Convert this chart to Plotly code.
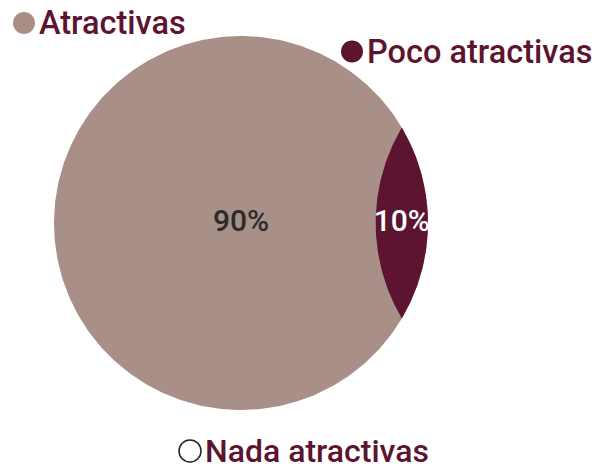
import numpy as np
import plotly.graph_objects as go

# ---- data ----
categories = ["Atractivas", "Poco atractivas", "Nada atractivas"]
values = [90, 10, 0]
colors = ["#a88f87", "#5d1430", "#ffffff"]
label_colors = ["#2b2b2b", "#ffffff", "#2b2b2b"]

# ---- style / geometry constants ----
W, H = 598, 470
CX_PX, CY_PX, R_PX = 241.0, 223.0, 187.0   # circle placement in pixels
LENS_OFFSET = 1.72                          # centre distance of cutting circle (in radii)
TEXT_COLOR = "#5d1430"
FONT = "Roboto"

x_range = [(0 - CX_PX) / R_PX, (W - CX_PX) / R_PX]
y_range = [-(H - CY_PX) / R_PX, CY_PX / R_PX]

fig = go.Figure()

# main circle (Atractivas)
t = np.linspace(0, 2 * np.pi, 361)
fig.add_trace(go.Scatter(
    x=np.cos(t), y=np.sin(t), mode="lines", fill="toself",
    fillcolor=colors[0], line=dict(width=0, color=colors[0]),
    name=categories[0], hoverinfo="name", showlegend=False))

# lens segment (Poco atractivas)
D = LENS_OFFSET
theta = np.arccos(D / 2)
a1 = np.linspace(-theta, theta, 120)
a2 = np.linspace(np.pi - theta, np.pi + theta, 120)
lx = np.concatenate([np.cos(a1), D + np.cos(a2)])
ly = np.concatenate([np.sin(a1), np.sin(a2)])
fig.add_trace(go.Scatter(
    x=lx, y=ly, mode="lines", fill="toself",
    fillcolor=colors[1], line=dict(width=0, color=colors[1]),
    name=categories[1], hoverinfo="name", showlegend=False))

# value labels
lens_cx = D / 2
fig.add_trace(go.Scatter(
    x=[0, lens_cx], y=[0, 0], mode="text",
    text=[f"{values[0]}%", f"{values[1]}%"],
    textfont=dict(family=FONT, size=30, color=label_colors[:2], weight=500),
    textposition="middle center", hoverinfo="skip", showlegend=False))

# manual legend (three separate items)
legend_pos = [(24, 23), (352, 51.5), (190, 451)]
legend_font = [32.5, 32.5, 32]
for i, (name, (mx, my)) in enumerate(zip(categories, legend_pos)):
    r = 11
    if values[i] == 0:
        fig.add_shape(type="circle", xref="paper", yref="paper",
                      x0=(mx - r) / W, x1=(mx + r) / W,
                      y0=1 - (my + r) / H, y1=1 - (my - r) / H,
                      fillcolor="#ffffff", line=dict(color="#222222", width=1.5))
    else:
        fig.add_shape(type="circle", xref="paper", yref="paper",
                      x0=(mx - r) / W, x1=(mx + r) / W,
                      y0=1 - (my + r) / H, y1=1 - (my - r) / H,
                      fillcolor=colors[i], line=dict(width=0))
    fig.add_annotation(
        text=name, xref="paper", yref="paper",
        x=(mx + r + 3) / W, y=1 - my / H, xanchor="left", yanchor="middle",
        showarrow=False,
        font=dict(family=FONT, size=legend_font[i], color=TEXT_COLOR, weight=500),
        borderpad=0)

fig.update_layout(
    width=W, height=H, margin=dict(l=0, r=0, t=0, b=0),
    paper_bgcolor="white", plot_bgcolor="white",
    xaxis=dict(range=x_range, visible=False, fixedrange=True),
    yaxis=dict(range=y_range, visible=False, fixedrange=True),
    showlegend=False)

fig.write_html("out.html", config={"displayModeBar": False},
               post_script="document.body.style.margin='0';document.body.style.overflow='hidden';")
